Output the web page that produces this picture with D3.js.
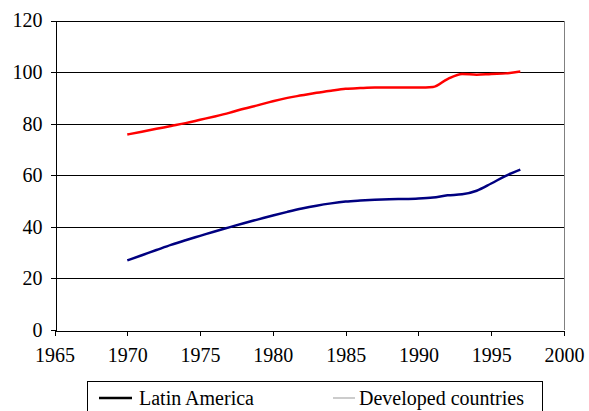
<!DOCTYPE html>
<html>
<head>
<meta charset="utf-8">
<script src="https://cdn.jsdelivr.net/npm/d3@7"></script>
<style>
  body { margin: 0; background: #fff; }
  svg text { font-family: "Liberation Serif", "Times New Roman", Times, "DejaVu Serif", serif; }
</style>
</head>
<body>
<div id="chart"></div>
<script>
const years = d3.range(1970, 1998);
const latinAmerica = [27.0, 29.0, 31.0, 33.0, 34.8, 36.5, 38.2, 39.8, 41.4, 42.9,
  44.4, 45.8, 47.1, 48.2, 49.1, 49.8, 50.2, 50.5, 50.7, 50.8,
  51.0, 51.4, 52.2, 52.6, 54.0, 56.8, 59.8, 62.2];
const developed = [75.8, 76.9, 78.0, 79.1, 80.2, 81.5, 82.8, 84.2, 85.8, 87.2,
  88.7, 90.0, 91.0, 92.0, 92.8, 93.5, 93.8, 94.0, 94.0, 94.0,
  94.0, 94.2, 97.3, 99.3, 99.0, 99.3, 99.5, 100.2];
const xTicks = [1965, 1970, 1975, 1980, 1985, 1990, 1995, 2000];
const yTicks = [0, 20, 40, 60, 80, 100, 120];

const serif = '"Liberation Serif", "Times New Roman", Times, "DejaVu Serif", serif';

const width = 589, height = 411,
    margin = {top: 20.5, right: 25, bottom: 81, left: 54.5};

const x = d3.scaleLinear()
    .domain([1965, 2000])
    .range([margin.left, width - margin.right]);

const y = d3.scaleLinear()
    .domain([0, 120])
    .range([height - margin.bottom, margin.top]);

const svg = d3.select("#chart")
    .append("svg")
    .attr("width", width)
    .attr("height", height);

// gridlines
svg.append("g")
    .selectAll("line")
    .data(yTicks.filter(d => d > 0))
    .join("line")
    .attr("x1", x(1965))
    .attr("x2", x(2000))
    .attr("y1", d => Math.round(y(d)) + 0.5)
    .attr("y2", d => Math.round(y(d)) + 0.5)
    .attr("stroke", "#000")
    .attr("shape-rendering", "crispEdges");

// right border of plot area
svg.append("line")
    .attr("x1", Math.round(x(2000)) + 0.5)
    .attr("x2", Math.round(x(2000)) + 0.5)
    .attr("y1", y(120))
    .attr("y2", y(0))
    .attr("stroke", "#808080")
    .attr("shape-rendering", "crispEdges");

const xAxis = svg.append("g")
    .attr("transform", `translate(0,${Math.round(y(0)) + 0.5})`)
    .call(d3.axisBottom(x).tickValues(xTicks).tickFormat(d3.format("d"))
        .tickSize(5).tickSizeOuter(0).tickPadding(12));

const yAxis = svg.append("g")
    .attr("transform", `translate(${Math.round(x(1965)) + 0.5},0)`)
    .call(d3.axisLeft(y).tickValues(yTicks).tickSize(5).tickSizeOuter(0).tickPadding(8));

[xAxis, yAxis].forEach(g => {
    g.attr("font-family", serif);
    g.selectAll("path, line").attr("stroke", "#000").attr("shape-rendering", "crispEdges");
    g.selectAll("text").attr("font-size", 20).attr("fill", "#000")
        .attr("font-family", serif);
});

const line = d3.line()
    .x((d, i) => x(years[i]))
    .y(d => y(d))
    .curve(d3.curveMonotoneX);

svg.append("path")
    .datum(developed)
    .attr("d", line)
    .attr("fill", "none")
    .attr("stroke", "#ff0000")
    .attr("stroke-width", 2.5);

svg.append("path")
    .datum(latinAmerica)
    .attr("d", line)
    .attr("fill", "none")
    .attr("stroke", "#000080")
    .attr("stroke-width", 2.5);

// legend
const legend = svg.append("g");
legend.append("rect")
    .attr("x", 87.5)
    .attr("y", 381.5)
    .attr("width", 455)
    .attr("height", 40)
    .attr("fill", "#fff")
    .attr("stroke", "#000");

const legendItems = [
    {label: "Latin America", x1: 99, x2: 132, tx: 139, color: "#000", w: 2.5},
    {label: "Developed countries", x1: 333, x2: 355, tx: 359, color: "#999", w: 1}
];

legendItems.forEach(d => {
    legend.append("line")
        .attr("x1", d.x1).attr("x2", d.x2)
        .attr("y1", 398).attr("y2", 398)
        .attr("stroke", d.color)
        .attr("stroke-width", d.w);
    legend.append("text")
        .attr("x", d.tx)
        .attr("y", 405)
        .attr("font-size", 20)
        .attr("font-family", serif)
        .text(d.label);
});
</script>
</body>
</html>
